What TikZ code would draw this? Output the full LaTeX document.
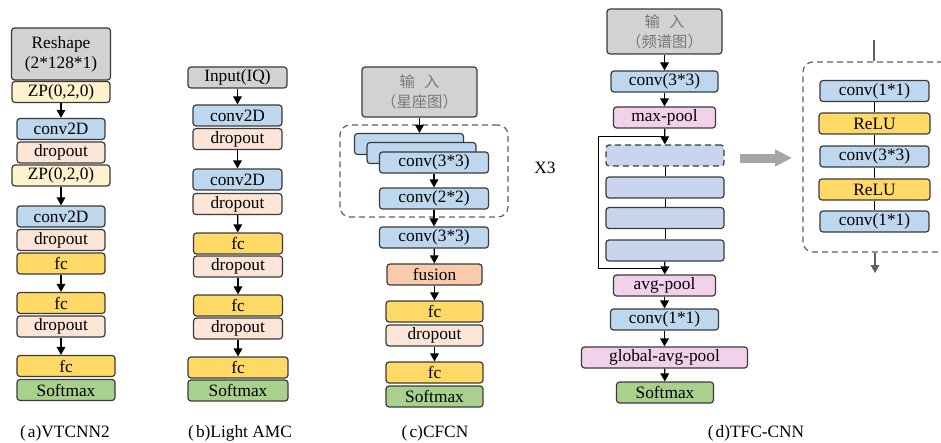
\documentclass[tikz,border=0pt]{standalone}
\usepackage{fontspec}
\setmainfont{Liberation Serif}
\newfontfamily\cjk{Noto Sans CJK SC}
\usetikzlibrary{arrows.meta}

\definecolor{boxline}{RGB}{58,58,58}
\definecolor{cgray}{RGB}{210,210,210}
\definecolor{cblue}{RGB}{189,215,238}
\definecolor{cdrop}{RGB}{251,229,214}
\definecolor{cfc}{RGB}{255,217,102}
\definecolor{czp}{RGB}{255,242,204}
\definecolor{csoft}{RGB}{169,209,142}
\definecolor{cfus}{RGB}{248,203,173}
\definecolor{cpink}{RGB}{242,210,235}
\definecolor{clav}{RGB}{201,213,236}
\definecolor{ctext}{RGB}{120,120,120}
\definecolor{dashgray}{RGB}{95,95,95}
\definecolor{bigarrow}{RGB}{166,166,166}

\newcommand{\figlabel}[2]{(\hspace{0.12em}#1)#2}

\begin{document}
\begin{tikzpicture}[x=0.75pt,y=0.75pt,yscale=-1,xscale=1,
  blk/.style={draw=boxline,line width=0.9pt,rounded corners=2.25pt,inner sep=0pt,minimum height=15.75pt,font=\fontsize{13}{15}\selectfont},
  bw/.style={minimum width=#1*0.75pt},
  bh/.style={minimum height=#1*0.75pt},
  inbox/.style={blk,fill=cgray,align=center},
  cninbox/.style={inbox,text=ctext,font=\cjk\fontsize{11.5}{15}\selectfont},
  conv/.style={blk,fill=cblue},
  drop/.style={blk,fill=cdrop},
  fcbox/.style={blk,fill=cfc},
  zpbox/.style={blk,fill=czp},
  soft/.style={blk,fill=csoft},
  pool/.style={blk,fill=cpink},
  res/.style={blk,fill=clav},
  dashbox/.style={draw=dashgray,line width=0.9pt,dash pattern=on 4.5pt off 3pt,rounded corners=7.5pt,inner sep=0pt},
  arr/.style={-{Triangle[length=6pt,width=6.5pt]},line width=0.9pt},
  link/.style={line width=0.75pt,draw=black},
  eline/.style={line width=1.1pt,draw=dashgray},
  capt/.style={font=\fontsize{13}{15}\selectfont,inner sep=0pt}
]
\useasboundingbox (0,0) rectangle (941,442);

%% (a) VTCNN2
%Shape: Rectangle
\node[inbox,bw=99,bh=52] (aIn) at (61,54) {Reshape\\(2*128*1)};
\node[zpbox,bw=98] (aZp1) at (61,92) {ZP(0,2,0)};
\node[conv,bw=88] (aConv1) at (61,129) {conv2D};
\node[drop,bw=88] (aDrop1) at (61,152.5) {dropout};
\node[zpbox,bw=98] (aZp2) at (61,175.5) {ZP(0,2,0)};
\node[conv,bw=88] (aConv2) at (61,216.5) {conv2D};
\node[drop,bw=88] (aDrop2) at (61,240) {dropout};
\node[fcbox,bw=88] (aFc1) at (61,263.5) {fc};
\node[fcbox,bw=88] (aFc2) at (61,303) {fc};
\node[drop,bw=88] (aDrop3) at (61,326.5) {dropout};
\node[fcbox,bw=98] (aFc3) at (66,366) {fc};
\node[soft,bw=98] (aSoft) at (66,390) {Softmax};
\draw[arr] (aZp1) -- (aConv1);
\draw[arr] (aZp2) -- (aConv2);
\draw[arr] (aFc1) -- (aFc2);
\draw[arr] (aDrop3.south) -- (aDrop3.south |- aFc3.north);
% Text Node
\node[capt] (capA) at (65,433) {\figlabel{a}{VTCNN2}};

%% (b) Light AMC
%Shape: Rectangle
\node[inbox,bw=99] (bIn) at (237.5,77.5) {Input(IQ)};
\node[conv,bw=89] (bConv1) at (237.5,115.5) {conv2D};
\node[drop,bw=89] (bDrop1) at (237.5,139) {dropout};
\node[conv,bw=89] (bConv2) at (237.5,179.5) {conv2D};
\node[drop,bw=89] (bDrop2) at (237.5,204) {dropout};
\node[fcbox,bw=89] (bFc1) at (238,243.5) {fc};
\node[drop,bw=89] (bDrop3) at (238,266.5) {dropout};
\node[fcbox,bw=89] (bFc2) at (238,305.5) {fc};
\node[drop,bw=89] (bDrop4) at (238,328.5) {dropout};
\node[fcbox,bw=100] (bFc3) at (238,367.5) {fc};
\node[soft,bw=100] (bSoft) at (238,390.5) {Softmax};
\draw[arr] (bIn) -- (bConv1);
\draw[arr] (bDrop1) -- (bConv2);
\draw[arr] (bDrop2) -- (bFc1);
\draw[arr] (bDrop3) -- (bFc2);
\draw[arr] (bDrop4) -- (bFc3);
% Text Node
\node[capt] (capB) at (240,433) {\figlabel{b}{Light AMC}};

%% (c) CFCN
%Shape: Rectangle
\node[cninbox,bw=115,bh=50] (cIn) at (419.5,92) {输\hspace{0.6em}入\\（星座图）};
\node[dashbox,bw=168,bh=92] (cLoop) at (424,171) {};
\node[conv,bw=109] (cBack) at (409,144) {};
\node[conv,bw=109] (cMid) at (421.5,153) {};
\node[conv,bw=109] (cFront) at (434,162.5) {conv(3*3)};
\node[conv,bw=109] (cConv2) at (434,198.5) {conv(2*2)};
\node[conv,bw=109] (cConv3) at (434,237.5) {conv(3*3)};
\node[blk,fill=cfus,bw=95] (cFus) at (434.5,274.5) {fusion};
\node[fcbox,bw=97] (cFc1) at (434.5,311.5) {fc};
\node[drop,bw=97] (cDrop) at (434.5,335.5) {dropout};
\node[fcbox,bw=97] (cFc2) at (434.5,372.5) {fc};
\node[soft,bw=97] (cSoft) at (434.5,396.5) {Softmax};
\draw[arr] (cIn.south) -- (cIn.south |- cBack.north);
\draw[arr] (cFront) -- (cConv2);
\draw[arr] (cConv2) -- (cConv3);
\draw[arr] (cConv3) -- (cFus);
\draw[arr] (cFus) -- (cFc1);
\draw[arr] (cDrop) -- (cFc2);
% Text Node
\node[capt] (cRep) at (545,168) {X3};
\node[capt] (capC) at (435,433) {\figlabel{c}{CFCN}};

%% (d) TFC-CNN
%Shape: Rectangle
\node[cninbox,bw=115,bh=45] (dIn) at (664.5,31.5) {输\hspace{0.6em}入\\（频谱图）};
\node[conv,bw=107] (dConv1) at (664.5,81.5) {conv(3*3)};
\node[pool,bw=102] (dMax) at (664.5,117.5) {max-pool};
\node[res,bw=118,dash pattern=on 4.5pt off 3pt] (dB1) at (665,155.5) {};
\node[res,bw=118] (dB2) at (665,187.5) {};
\node[res,bw=118] (dB3) at (665,218) {};
\node[res,bw=118] (dB4) at (665,250.5) {};
\node[pool,bw=102] (dAvg) at (664.5,285.5) {avg-pool};
\node[conv,bw=108] (dConv2) at (664.5,319.5) {conv(1*1)};
\node[pool,bw=166] (dGap) at (664.5,357.5) {global-avg-pool};
\node[soft,bw=97] (dSoft) at (665,392.5) {Softmax};
\coordinate (sTop) at (598,137);
\coordinate (sBot) at (598,268);
\draw[arr] (dIn) -- (dConv1);
\draw[arr] (dConv1) -- (dMax);
\draw[arr] (dMax) -- (dB1);
\draw[link] (dB1) -- (dB2);
\draw[link] (dB2) -- (dB3);
\draw[link] (dB3) -- (dB4);
\draw[arr] (dB4) -- (dAvg);
\draw[link] (dMax.south |- sTop) -- (sTop) -- (sBot) -- (dAvg.north |- sBot);
\draw[arr] (dAvg) -- (dConv2);
\draw[arr] (dConv2) -- (dGap);
\draw[arr] (dGap) -- (dSoft);

% big arrow to the block detail
\coordinate (gS) at (740,158);
\coordinate (gE) at (792,158);
\draw[draw=bigarrow,line width=6.75pt,-{Triangle[length=12.75pt,width=12pt]}] (gS) -- (gE);

\begin{scope}
\clip (0,0) rectangle (941,442);
\node[dashbox,bw=160,bh=190] (eBox) at (883,157) {};
\end{scope}
\node[conv,bw=109] (e1) at (874.5,91) {conv(1*1)};
\node[fcbox,bw=111] (e2) at (874.5,123.5) {ReLU};
\node[conv,bw=109] (e3) at (874.5,156.5) {conv(3*3)};
\node[fcbox,bw=111] (e4) at (874.5,189.5) {ReLU};
\node[conv,bw=109] (e5) at (874.5,221.5) {conv(1*1)};
\draw[link] (e1) -- (e2);
\draw[link] (e2) -- (e3);
\draw[link] (e3) -- (e4);
\draw[link] (e4) -- (e5);
\coordinate (eTop) at (874,40);
\coordinate (eEnd) at (875,273);
\draw[eline] (eTop) -- (eTop |- eBox.north);
\draw[eline,-{Triangle[length=6pt,width=6.5pt]}] (eEnd |- eBox.south) -- (eEnd);
% Text Node
\node[capt] (capD) at (756,433) {\figlabel{d}{TFC-CNN}};

\end{tikzpicture}
\end{document}
